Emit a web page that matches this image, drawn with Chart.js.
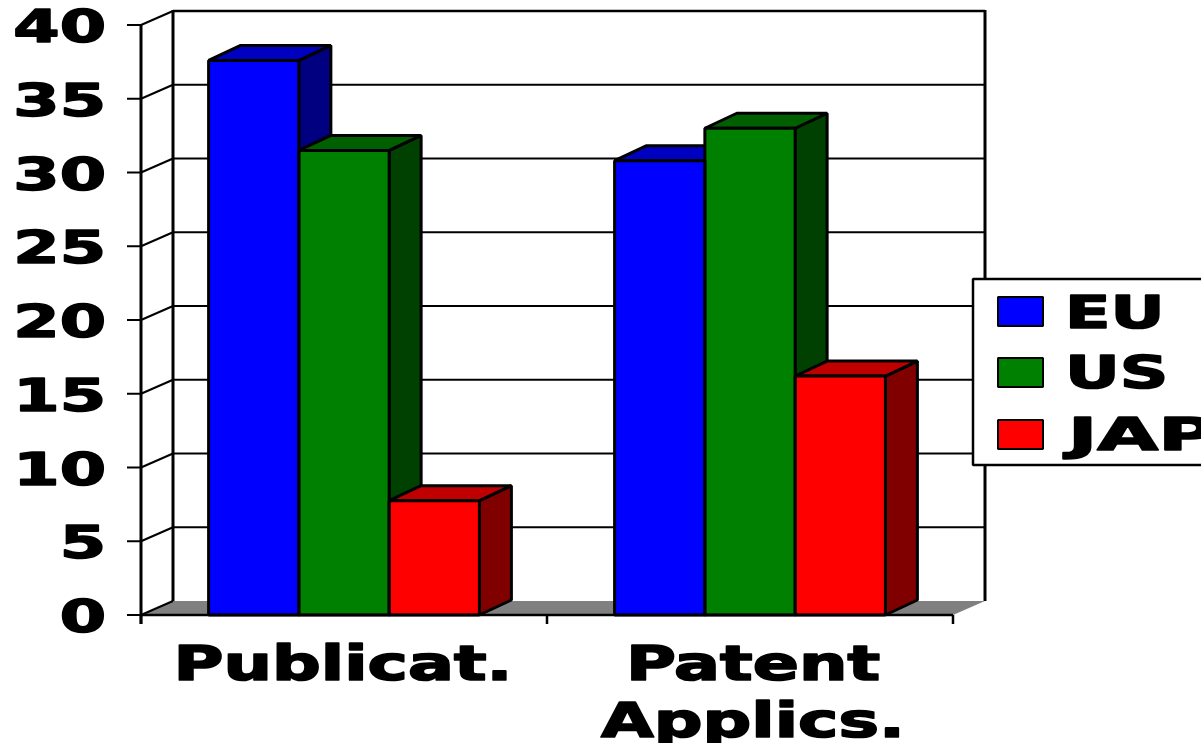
<!DOCTYPE html>
<html>
<head>
<meta charset="utf-8">
<style>
  html, body { margin: 0; padding: 0; background: #fff; overflow: hidden; }
</style>
<script src="https://cdn.jsdelivr.net/npm/chart.js@4"></script>
</head>
<body>
<canvas id="chart" width="1201" height="743"></canvas>
<script>
const categories = ["Publicat.", ["Patent", "Applics."]];
const seriesNames = ["EU", "US", "JAP"];
const euValues = [37.6, 30.8];
const usValues = [31.5, 33.0];
const japValues = [7.75, 16.2];
const frontColors = ["#0000ff", "#008000", "#ff0000"];
const topColors = ["#0000c0", "#006000", "#c00000"];
const sideColors = ["#000080", "#004000", "#800000"];

const depthX = 32;
const depthY = -14;
const barDepthY = -15;
const fontName = '"DejaVu Sans"';

// wide bold text, the original font is stretched sideways and heavier
function wideText(ctx, text, x, y, size, stretch, align) {
  ctx.save();
  ctx.font = "bold " + size + "px " + fontName;
  ctx.fillStyle = "#000";
  ctx.strokeStyle = "#000";
  ctx.lineJoin = "round";
  ctx.lineWidth = size * 0.035;
  ctx.textBaseline = "alphabetic";
  ctx.textAlign = align;
  ctx.translate(x, y);
  ctx.scale(stretch, 1);
  ctx.fillText(text, 0, 0);
  ctx.strokeText(text, 0, 0);
  ctx.restore();
}

function poly(ctx, pts, fill, lineWidth) {
  ctx.beginPath();
  pts.forEach((p, i) => (i ? ctx.lineTo(p[0], p[1]) : ctx.moveTo(p[0], p[1])));
  ctx.closePath();
  if (fill) {
    ctx.fillStyle = fill;
    ctx.fill();
  }
  if (lineWidth) {
    ctx.lineWidth = lineWidth;
    ctx.lineJoin = "bevel";
    ctx.strokeStyle = "#000";
    ctx.stroke();
  }
}

function line(ctx, x1, y1, x2, y2, w) {
  ctx.beginPath();
  ctx.moveTo(x1, y1);
  ctx.lineTo(x2, y2);
  ctx.lineWidth = w;
  ctx.strokeStyle = "#000";
  ctx.stroke();
}

const box3d = {
  id: "box3d",
  beforeDatasetsDraw(chart) {
    const { ctx, chartArea: a, scales } = chart;
    const y = scales.y;
    ctx.save();

    // floor
    poly(ctx, [[a.left, a.bottom], [a.left + depthX, a.bottom + depthY],
      [a.right + depthX, a.bottom + depthY], [a.right, a.bottom]], "#808080", 0);

    // back wall grid and the slanted lines on the side wall
    y.ticks.forEach((t) => {
      const py = y.getPixelForValue(t.value);
      if (t.value > 0) {
        line(ctx, a.left + depthX, py + depthY, a.right + depthX, py + depthY, t.value === 40 ? 2.5 : 2);
      }
      line(ctx, a.left, py, a.left + depthX, py + depthY, 2);
    });
    line(ctx, a.left + depthX, a.top + depthY - 1, a.left + depthX, a.bottom + depthY, 3);
    line(ctx, a.right + depthX, a.top + depthY - 1, a.right + depthX, a.bottom + depthY, 3);

    // tops and sides, left to right so later bars cover earlier sides
    const base = y.getPixelForValue(0);
    const nGroups = categories.length;
    for (let g = 0; g < nGroups; g++) {
      chart.data.datasets.forEach((ds, i) => {
        const bar = chart.getDatasetMeta(i).data[g];
        const l = bar.x - bar.width / 2;
        const r = bar.x + bar.width / 2;
        poly(ctx, [[r, bar.y], [r + depthX, bar.y + barDepthY], [r + depthX, base + barDepthY], [r, base]], sideColors[i], 3);
        poly(ctx, [[l, bar.y], [l + depthX, bar.y + barDepthY], [r + depthX, bar.y + barDepthY], [r, bar.y]], topColors[i], 3);
      });
    }
    ctx.restore();
  },
  afterDatasetsDraw(chart) {
    const { ctx, chartArea: a, scales } = chart;
    const x = scales.x;
    const y = scales.y;
    ctx.save();

    // outlines of the front faces
    chart.data.datasets.forEach((ds, i) => {
      chart.getDatasetMeta(i).data.forEach((bar) => {
        const l = bar.x - bar.width / 2;
        const r = bar.x + bar.width / 2;
        poly(ctx, [[l, bar.y], [r, bar.y], [r, bar.base], [l, bar.base]], null, 3);
      });
    });

    // front axes and tick marks
    line(ctx, a.left, a.top, a.left, a.bottom + 9, 3);
    line(ctx, a.left, a.bottom, a.right, a.bottom, 2.5);
    y.ticks.forEach((t) => {
      const py = y.getPixelForValue(t.value);
      line(ctx, a.left - 14, py, a.left, py, 2);
      wideText(ctx, String(t.value), a.left - 35, py + 17, 45, 1.48, "right");
    });
    const half = (x.getPixelForValue(1) - x.getPixelForValue(0)) / 2;
    [x.getPixelForValue(0) - half, x.getPixelForValue(0) + half, x.getPixelForValue(1) + half].forEach((px) => {
      line(ctx, px, a.bottom, px, a.bottom + 9, 2.5);
    });

    // category labels
    categories.forEach((c, i) => {
      const rows = Array.isArray(c) ? c : [c];
      rows.forEach((row, r) => {
        wideText(ctx, row, x.getPixelForValue(i) + (i ? 3 : -1), 680 + r * 57, 48, 1.42, "center");
      });
    });

    // legend
    ctx.fillStyle = "#fff";
    ctx.fillRect(973, 279, 240, 186);
    ctx.strokeStyle = "#000";
    ctx.lineWidth = 2.5;
    ctx.strokeRect(973, 279, 240, 186);
    const swatchY = [297, 358, 420];
    const textY = [328, 388, 450];
    const textX = [1065, 1065, 1068];
    const textStretch = [1.48, 1.5, 1.75];
    seriesNames.forEach((name, i) => {
      ctx.fillStyle = frontColors[i];
      ctx.fillRect(998, swatchY[i], 45, 29);
      ctx.strokeStyle = "#000";
      ctx.lineWidth = 2;
      ctx.strokeRect(998, swatchY[i], 45, 29);
      wideText(ctx, name, textX[i], textY[i], 45, textStretch[i], "left");
    });
    ctx.restore();
  },
};

new Chart(document.getElementById("chart").getContext("2d"), {
  type: "bar",
  data: {
    labels: categories,
    datasets: [
      { label: seriesNames[0], data: euValues, backgroundColor: frontColors[0] },
      { label: seriesNames[1], data: usValues, backgroundColor: frontColors[1] },
      { label: seriesNames[2], data: japValues, backgroundColor: frontColors[2] },
    ],
  },
  options: {
    responsive: false,
    animation: false,
    layout: { padding: { left: 141, right: 248, top: 25, bottom: 128 } },
    datasets: { bar: { categoryPercentage: 0.667, barPercentage: 1, borderWidth: 0 } },
    scales: {
      x: { display: false },
      y: { display: false, min: 0, max: 40, ticks: { stepSize: 5 } },
    },
    plugins: { legend: { display: false }, tooltip: { enabled: false } },
  },
  plugins: [box3d],
});
</script>
</body>
</html>
